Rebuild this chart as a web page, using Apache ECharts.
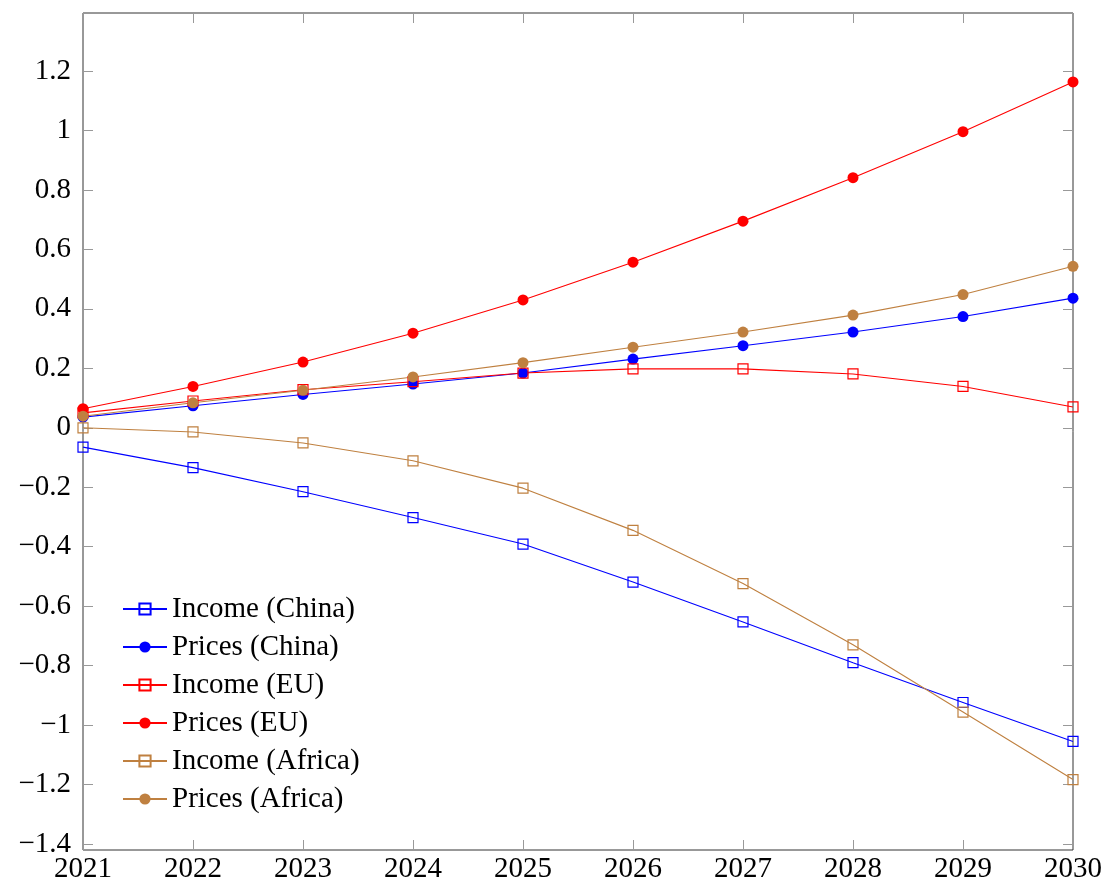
<!DOCTYPE html>
<html>
<head>
<meta charset="utf-8">
<style>
  html, body { margin: 0; padding: 0; background: #fff; }
  #chart { width: 1109px; height: 887px; }
</style>
<script src="https://cdn.jsdelivr.net/npm/echarts@6/dist/echarts.min.js"></script>
</head>
<body>
<div id="chart"></div>
<script>
// Years on the horizontal axis
const years = ['2021', '2022', '2023', '2024', '2025', '2026', '2027', '2028', '2029', '2030'];

// Series values
const incomeChina  = [-0.065, -0.134, -0.215, -0.302, -0.391, -0.519, -0.653, -0.790, -0.924, -1.055];
const pricesChina  = [0.036, 0.074, 0.112, 0.147, 0.184, 0.231, 0.276, 0.322, 0.374, 0.436];
const incomeEU     = [0.050, 0.090, 0.128, 0.155, 0.184, 0.198, 0.198, 0.181, 0.139, 0.070];
const pricesEU     = [0.064, 0.139, 0.221, 0.318, 0.430, 0.557, 0.695, 0.841, 0.996, 1.163];
const incomeAfrica = [0.000, -0.014, -0.051, -0.111, -0.203, -0.345, -0.524, -0.730, -0.956, -1.183];
const pricesAfrica = [0.039, 0.084, 0.126, 0.171, 0.219, 0.271, 0.322, 0.379, 0.448, 0.543];

const BLUE = '#0000ff', RED = '#ff0000', BROWN = '#bf8040';
const FONT = '"Liberation Serif", "DejaVu Serif", serif';
const FS = 29;

function income(name, data, color) {
  return {
    name, type: 'line', data,
    symbol: 'rect', symbolSize: 10,
    itemStyle: { color: 'rgba(0,0,0,0)', borderColor: color, borderWidth: 1.2 },
    lineStyle: { color, width: 1.1 },
    emphasis: { disabled: true }
  };
}
function prices(name, data, color) {
  return {
    name, type: 'line', data,
    symbol: 'circle', symbolSize: 11,
    itemStyle: { color, borderWidth: 0 },
    lineStyle: { color, width: 1.1 },
    emphasis: { disabled: true }
  };
}

const tickStyle = { show: true, inside: true, length: 10, lineStyle: { color: '#999', width: 1 } };
const fmt = v => String(v).replace('-', '\u2212');

const chart = echarts.init(document.getElementById('chart'), null, { renderer: 'canvas' });
chart.setOption({
  animation: false,
  backgroundColor: '#fff',
  textStyle: { fontFamily: FONT },
  grid: {
    left: 83, right: 36, top: 13, bottom: 37,
    show: true, borderColor: '#333', borderWidth: 1, backgroundColor: 'transparent'
  },
  xAxis: [
    {
      type: 'category', data: years, boundaryGap: false, position: 'bottom',
      axisLine: { show: false, onZero: false },
      axisTick: Object.assign({ alignWithLabel: true }, tickStyle),
      axisLabel: { fontSize: FS, fontFamily: FONT, color: '#000', margin: 5 },
      splitLine: { show: false }
    },
    {
      type: 'category', data: years, boundaryGap: false, position: 'top',
      axisLine: { show: false, onZero: false },
      axisTick: Object.assign({ alignWithLabel: true }, tickStyle),
      axisLabel: { show: false },
      splitLine: { show: false }
    }
  ],
  yAxis: [
    {
      type: 'value', min: -1.42, max: 1.395, splitNumber: 14, position: 'left',
      axisLine: { show: false, onZero: false },
      axisTick: tickStyle,
      axisLabel: { fontSize: FS, fontFamily: FONT, color: '#000', margin: 12, formatter: fmt,
                   showMinLabel: false, showMaxLabel: false },
      splitLine: { show: false }
    },
    {
      type: 'value', min: -1.42, max: 1.395, splitNumber: 14, position: 'right',
      axisLine: { show: false, onZero: false },
      axisTick: tickStyle,
      axisLabel: { show: false },
      splitLine: { show: false }
    }
  ],
  legend: {
    orient: 'vertical', left: 122, top: 594, padding: 0,
    itemWidth: 44, itemHeight: 14, itemGap: 8,
    textStyle: { fontSize: FS, fontFamily: FONT, color: '#000', lineHeight: 30 },
    selectedMode: false,
    data: ['Income (China)', 'Prices (China)', 'Income (EU)', 'Prices (EU)', 'Income (Africa)', 'Prices (Africa)']
  },
  series: [
    income('Income (China)', incomeChina, BLUE),
    prices('Prices (China)', pricesChina, BLUE),
    income('Income (EU)', incomeEU, RED),
    prices('Prices (EU)', pricesEU, RED),
    income('Income (Africa)', incomeAfrica, BROWN),
    prices('Prices (Africa)', pricesAfrica, BROWN)
  ]
});
</script>
</body>
</html>
